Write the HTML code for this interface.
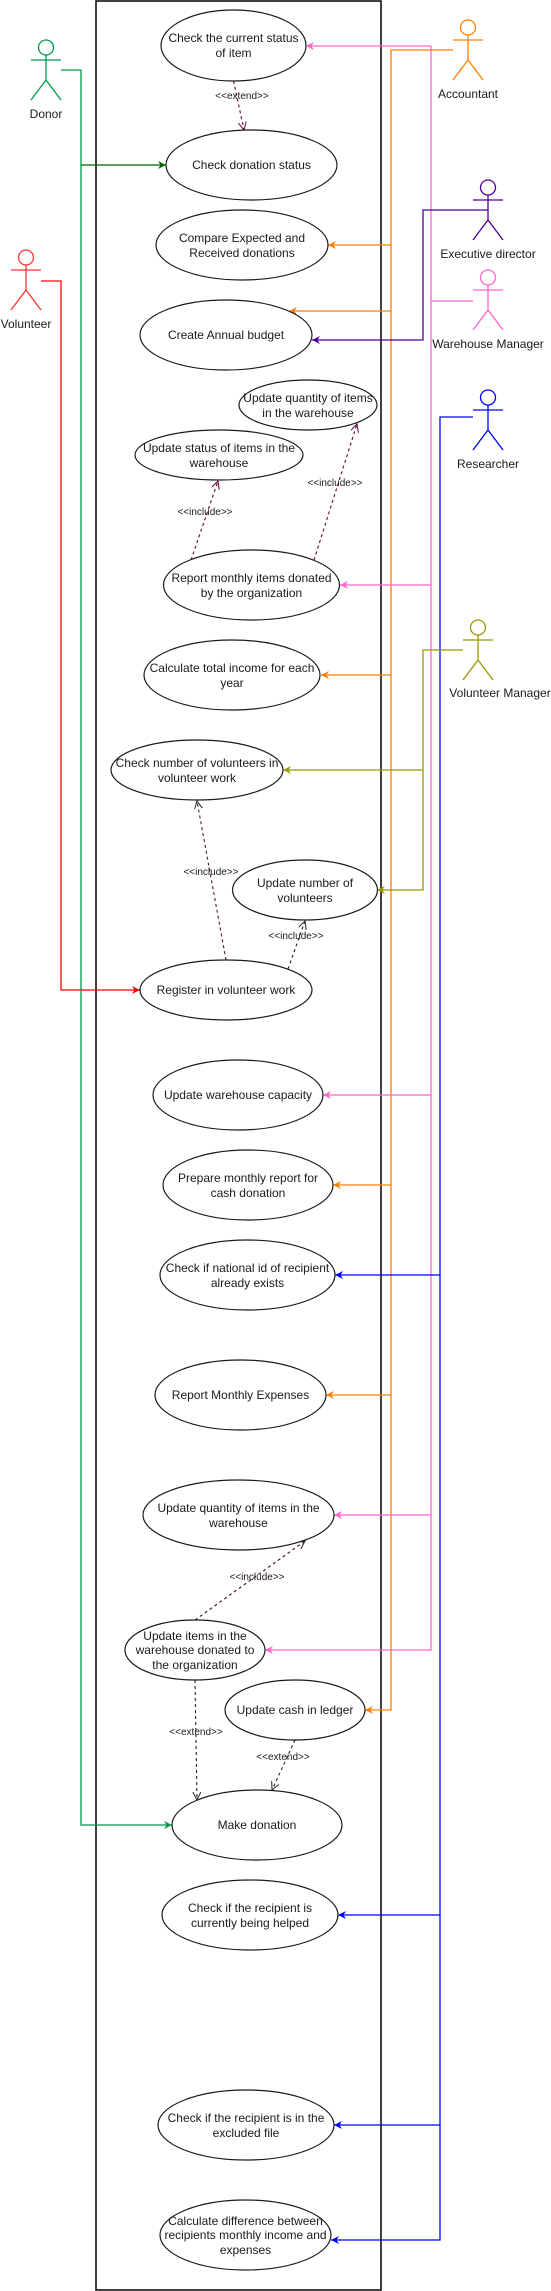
<!DOCTYPE html>
<html><head><meta charset="utf-8"><style>
html,body{margin:0;padding:0;background:#fff;}
svg{display:block;}
text{font-family:"Liberation Sans",Arial,sans-serif;fill:#1a1a1a;}
.u{font-size:12px;text-anchor:middle;}
.a{font-size:12px;text-anchor:middle;}
.l{font-size:10px;text-anchor:middle;}
</style></head><body>
<svg width="551" height="2291" viewBox="0 0 551 2291" xmlns="http://www.w3.org/2000/svg">
<defs>
<marker id="mO" markerUnits="userSpaceOnUse" markerWidth="10" markerHeight="10" refX="8" refY="4" orient="auto"><path d="M0,0 L8,4 L0,8 L2.5,4 z" fill="#FF8000"/></marker>
<marker id="mP" markerUnits="userSpaceOnUse" markerWidth="10" markerHeight="10" refX="8" refY="4" orient="auto"><path d="M0,0 L8,4 L0,8 L2.5,4 z" fill="#FF66CC"/></marker>
<marker id="mB" markerUnits="userSpaceOnUse" markerWidth="10" markerHeight="10" refX="8" refY="4" orient="auto"><path d="M0,0 L8,4 L0,8 L2.5,4 z" fill="#0000FF"/></marker>
<marker id="mV" markerUnits="userSpaceOnUse" markerWidth="10" markerHeight="10" refX="8" refY="4" orient="auto"><path d="M0,0 L8,4 L0,8 L2.5,4 z" fill="#4C0099"/></marker>
<marker id="mY" markerUnits="userSpaceOnUse" markerWidth="10" markerHeight="10" refX="8" refY="4" orient="auto"><path d="M0,0 L8,4 L0,8 L2.5,4 z" fill="#999900"/></marker>
<marker id="mG" markerUnits="userSpaceOnUse" markerWidth="10" markerHeight="10" refX="8" refY="4" orient="auto"><path d="M0,0 L8,4 L0,8 L2.5,4 z" fill="#006600"/></marker>
<marker id="mG2" markerUnits="userSpaceOnUse" markerWidth="10" markerHeight="10" refX="8" refY="4" orient="auto"><path d="M0,0 L8,4 L0,8 L2.5,4 z" fill="#00994D"/></marker>
<marker id="mR" markerUnits="userSpaceOnUse" markerWidth="10" markerHeight="10" refX="8" refY="4" orient="auto"><path d="M0,0 L8,4 L0,8 L2.5,4 z" fill="#FF0000"/></marker>
<marker id="oM" markerUnits="userSpaceOnUse" markerWidth="10" markerHeight="10" refX="8" refY="4" orient="auto"><path d="M0,0 L8,4 L0,8" fill="none" stroke="#660033" stroke-width="1"/></marker>
<marker id="oK" markerUnits="userSpaceOnUse" markerWidth="10" markerHeight="10" refX="8" refY="4" orient="auto"><path d="M0,0 L8,4 L0,8" fill="none" stroke="#222" stroke-width="1"/></marker>
</defs>

<!-- system boundary -->
<rect x="96" y="1" width="285" height="2289" fill="none" stroke="#000" stroke-width="1.5"/>

<!-- actor connectors -->
<g fill="none" stroke-width="1.3">
<!-- green donor -->
<polyline points="61,70 81,70 81,1825 172,1825" stroke="#00994D" marker-end="url(#mG2)"/>
<polyline points="81,165 166,165" stroke="#006600" marker-end="url(#mG)"/>
<!-- red volunteer -->
<polyline points="41,281 61,281 61,990 140,990" stroke="#FF0000" marker-end="url(#mR)"/>
<!-- orange accountant -->
<polyline points="453,50 391,50 391,1710 365,1710" stroke="#FF8000" marker-end="url(#mO)"/>
<line x1="391" y1="245" x2="328" y2="245" stroke="#FF8000" marker-end="url(#mO)"/>
<line x1="391" y1="311" x2="289" y2="311" stroke="#FF8000" marker-end="url(#mO)"/>
<line x1="391" y1="675" x2="321" y2="675" stroke="#FF8000" marker-end="url(#mO)"/>
<line x1="391" y1="1185" x2="333" y2="1185" stroke="#FF8000" marker-end="url(#mO)"/>
<line x1="391" y1="1395" x2="326" y2="1395" stroke="#FF8000" marker-end="url(#mO)"/>
<!-- pink warehouse manager -->
<polyline points="473,301 431,301" stroke="#FF66CC"/>
<polyline points="431,46 431,1650 265,1650" stroke="#FF66CC" marker-end="url(#mP)"/>
<line x1="431" y1="46" x2="306" y2="46" stroke="#FF66CC" marker-end="url(#mP)"/>
<line x1="431" y1="585" x2="340" y2="585" stroke="#FF66CC" marker-end="url(#mP)"/>
<line x1="431" y1="1095" x2="323" y2="1095" stroke="#FF66CC" marker-end="url(#mP)"/>
<line x1="431" y1="1515" x2="334" y2="1515" stroke="#FF66CC" marker-end="url(#mP)"/>
<!-- purple exec director -->
<polyline points="488,210 423,210 423,340 312,340" stroke="#4C0099" marker-end="url(#mV)"/>
<!-- blue researcher -->
<polyline points="473,417 440,417 440,2240 331,2240" stroke="#0000FF" marker-end="url(#mB)"/>
<line x1="440" y1="1275" x2="335" y2="1275" stroke="#0000FF" marker-end="url(#mB)"/>
<line x1="440" y1="1915" x2="338" y2="1915" stroke="#0000FF" marker-end="url(#mB)"/>
<line x1="440" y1="2125" x2="334" y2="2125" stroke="#0000FF" marker-end="url(#mB)"/>
<!-- olive volunteer manager -->
<polyline points="463,650 423,650 423,890 377,890" stroke="#999900" marker-end="url(#mY)"/>
<line x1="423" y1="770" x2="283" y2="770" stroke="#999900" marker-end="url(#mY)"/>
</g>

<!-- dashed include/extend -->
<g fill="none" stroke-width="1.1" stroke-dasharray="3,3">
<line x1="233.5" y1="81" x2="244" y2="130" stroke="#660033" marker-end="url(#oM)"/>
<line x1="191" y1="560" x2="218" y2="481" stroke="#660033" marker-end="url(#oM)"/>
<line x1="314" y1="560" x2="357" y2="424" stroke="#660033" marker-end="url(#oM)"/>
<line x1="226" y1="960" x2="197" y2="801" stroke="#4a1a2a" marker-end="url(#oK)"/>
<line x1="288" y1="969" x2="305" y2="921" stroke="#222" marker-end="url(#oK)"/>
<line x1="195" y1="1620" x2="305" y2="1541" stroke="#4a1a2a" marker-end="url(#oK)"/>
<line x1="195" y1="1680" x2="197" y2="1800" stroke="#222" marker-end="url(#oK)"/>
<line x1="295" y1="1740" x2="272" y2="1790" stroke="#222" marker-end="url(#oK)"/>
</g>
<g class="l">
<text class="l" x="242" y="99">&lt;&lt;extend&gt;&gt;</text>
<text class="l" x="205" y="515">&lt;&lt;include&gt;&gt;</text>
<text class="l" x="335" y="486">&lt;&lt;include&gt;&gt;</text>
<text class="l" x="211" y="875">&lt;&lt;include&gt;&gt;</text>
<text class="l" x="296" y="939">&lt;&lt;include&gt;&gt;</text>
<text class="l" x="257" y="1580">&lt;&lt;include&gt;&gt;</text>
<text class="l" x="196" y="1735">&lt;&lt;extend&gt;&gt;</text>
<text class="l" x="283" y="1760">&lt;&lt;extend&gt;&gt;</text>
</g>

<!-- use cases -->
<g fill="#fff" stroke="#1a1a1a" stroke-width="1.2">
<ellipse cx="233.5" cy="45.5" rx="72.5" ry="35.5"/>
<ellipse cx="251.5" cy="165" rx="85.5" ry="35"/>
<ellipse cx="242" cy="245" rx="86" ry="35"/>
<ellipse cx="226" cy="335" rx="86" ry="35"/>
<ellipse cx="308" cy="405" rx="69" ry="25"/>
<ellipse cx="219" cy="455" rx="84" ry="25"/>
<ellipse cx="251.5" cy="585" rx="88" ry="35"/>
<ellipse cx="232" cy="675" rx="88" ry="35"/>
<ellipse cx="197" cy="770" rx="86" ry="30"/>
<ellipse cx="305" cy="890" rx="72.5" ry="30"/>
<ellipse cx="226" cy="990" rx="86" ry="30"/>
<ellipse cx="238" cy="1095" rx="85" ry="35"/>
<ellipse cx="248" cy="1185" rx="85" ry="35"/>
<ellipse cx="247.5" cy="1275" rx="87.5" ry="35"/>
<ellipse cx="240.5" cy="1395" rx="85.5" ry="35"/>
<ellipse cx="238.5" cy="1515" rx="95.5" ry="35"/>
<ellipse cx="195" cy="1650" rx="70" ry="30"/>
<ellipse cx="295" cy="1710" rx="70" ry="30"/>
<ellipse cx="257" cy="1825" rx="85" ry="35"/>
<ellipse cx="250" cy="1915" rx="88" ry="35"/>
<ellipse cx="246" cy="2125" rx="88" ry="35"/>
<ellipse cx="245.5" cy="2235" rx="85.5" ry="35"/>
</g>

<g>
<text class="u" x="233.5" y="42">Check the current status</text>
<text class="u" x="233.5" y="57">of item</text>
<text class="u" x="251.5" y="169">Check donation status</text>
<text class="u" x="242" y="242">Compare Expected and</text>
<text class="u" x="242" y="257">Received donations</text>
<text class="u" x="226" y="339">Create Annual budget</text>
<text class="u" x="308" y="402">Update quantity of items</text>
<text class="u" x="308" y="417">in the warehouse</text>
<text class="u" x="219" y="452">Update status of items in the</text>
<text class="u" x="219" y="467">warehouse</text>
<text class="u" x="251.5" y="582">Report monthly items donated</text>
<text class="u" x="251.5" y="597">by the organization</text>
<text class="u" x="232" y="672">Calculate total income for each</text>
<text class="u" x="232" y="687">year</text>
<text class="u" x="197" y="767">Check number of volunteers in</text>
<text class="u" x="197" y="782">volunteer work</text>
<text class="u" x="305" y="887">Update number of</text>
<text class="u" x="305" y="902">volunteers</text>
<text class="u" x="226" y="994">Register in volunteer work</text>
<text class="u" x="238" y="1099">Update warehouse capacity</text>
<text class="u" x="248" y="1182">Prepare monthly report for</text>
<text class="u" x="248" y="1197">cash donation</text>
<text class="u" x="247.5" y="1272">Check if national id of recipient</text>
<text class="u" x="247.5" y="1287">already exists</text>
<text class="u" x="240.5" y="1399">Report Monthly Expenses</text>
<text class="u" x="238.5" y="1512">Update quantity of items in the</text>
<text class="u" x="238.5" y="1527">warehouse</text>
<text class="u" x="195" y="1640">Update items in the</text>
<text class="u" x="195" y="1654">warehouse donated to</text>
<text class="u" x="195" y="1669">the organization</text>
<text class="u" x="295" y="1714">Update cash in ledger</text>
<text class="u" x="257" y="1829">Make donation</text>
<text class="u" x="250" y="1912">Check if the recipient is</text>
<text class="u" x="250" y="1927">currently being helped</text>
<text class="u" x="246" y="2122">Check if the recipient is in the</text>
<text class="u" x="246" y="2137">excluded file</text>
<text class="u" x="245.5" y="2225">Calculate difference between</text>
<text class="u" x="245.5" y="2239">recipients monthly income and</text>
<text class="u" x="245.5" y="2254">expenses</text>
</g>

<!-- actors -->
<g fill="#fff" stroke-width="1.3">
<g stroke="#00994D"><circle cx="46" cy="47.5" r="7.5"/><path d="M46,55 V80 M31,60 H61 M31,100 L46,80 L61,100" fill="none"/></g>
<g stroke="#FF3333"><circle cx="26" cy="257.5" r="7.5"/><path d="M26,265 V290 M11,270 H41 M11,310 L26,290 L41,310" fill="none"/></g>
<g stroke="#FF8000"><circle cx="468" cy="27.5" r="7.5"/><path d="M468,35 V60 M453,40 H483 M453,80 L468,60 L483,80" fill="none"/></g>
<g stroke="#4C0099"><circle cx="488" cy="187.5" r="7.5"/><path d="M488,195 V220 M473,200 H503 M473,240 L488,220 L503,240" fill="none"/></g>
<g stroke="#FF66CC"><circle cx="488" cy="277.5" r="7.5"/><path d="M488,285 V310 M473,290 H503 M473,330 L488,310 L503,330" fill="none"/></g>
<g stroke="#0000FF"><circle cx="488" cy="397.5" r="7.5"/><path d="M488,405 V430 M473,410 H503 M473,450 L488,430 L503,450" fill="none"/></g>
<g stroke="#999900"><circle cx="478" cy="627.5" r="7.5"/><path d="M478,635 V660 M463,640 H493 M463,680 L478,660 L493,680" fill="none"/></g>
</g>
<text class="a" x="46" y="118">Donor</text>
<text class="a" x="26" y="328">Volunteer</text>
<text class="a" x="468" y="98">Accountant</text>
<text class="a" x="488" y="258">Executive director</text>
<text class="a" x="488" y="348">Warehouse Manager</text>
<text class="a" x="488" y="468">Researcher</text>
<text class="a" x="500" y="697">Volunteer Manager</text>
</svg>
</body></html>
